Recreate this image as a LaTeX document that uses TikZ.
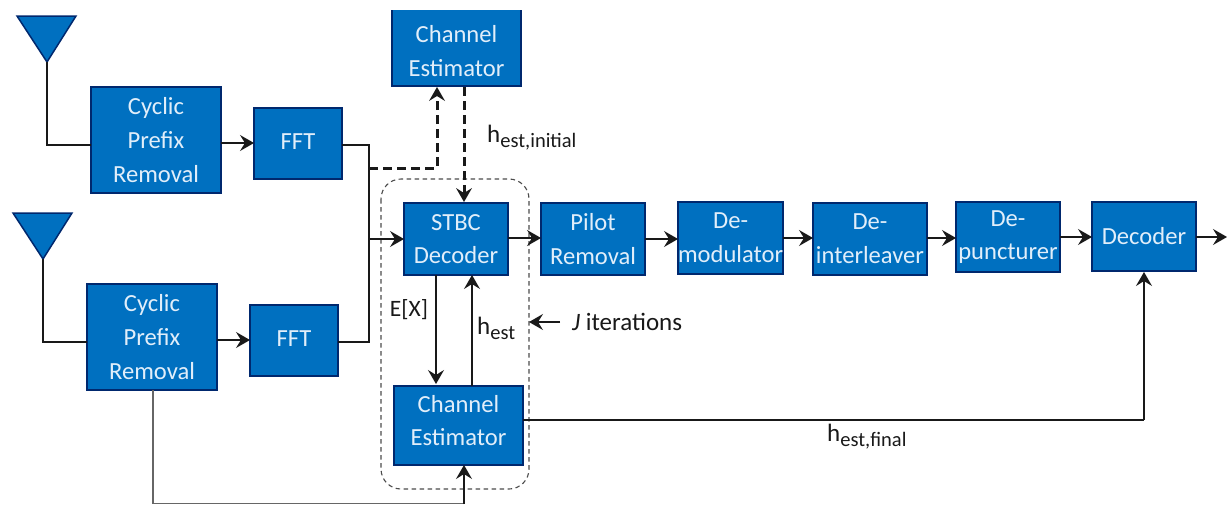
\documentclass[tikz,border=0pt]{standalone}
\usepackage{fontspec}
\setmainfont{Carlito}
\usetikzlibrary{arrows.meta,calc}
\definecolor{boxfill}{RGB}{0,112,192}
\definecolor{boxline}{RGB}{0,40,110}
\definecolor{boxtext}{RGB}{225,238,250}
\definecolor{labeltext}{RGB}{25,25,25}
\tikzset{
  x=1pt,y=-1pt,
  blk/.style={draw=boxline,line width=1.6pt,fill=boxfill,text=boxtext,font=\fontsize{24.6}{33.7}\selectfont,align=center,inner sep=0pt,outer sep=0pt,anchor=north west},
  ant/.style={draw=boxline,line width=1.5pt,fill=boxfill,line join=miter},
  wire/.style={draw=black!90,line width=1.2pt},
  arw/.style={wire,-{Stealth[length=14pt,width=16pt,inset=5pt]}},
  dsh/.style={draw=black!90,line width=3pt,dash pattern=on 9pt off 5pt},
  dsharw/.style={dsh,-{Stealth[length=14pt,width=16pt,inset=5pt,line width=0pt]}},
  lab/.style={text=labeltext,font=\fontsize{25}{27}\selectfont,inner sep=0pt},
}
\newcommand{\blknode}[7][]{\node[blk,minimum width=#5 pt-#3 pt,minimum height=#6 pt-#4 pt,#1] (#2) at (#3,#4) {#7};}
\newcommand{\subtxt}[1]{\raisebox{-5pt}{\fontsize{20.5}{22}\selectfont #1}}
\begin{document}
\begin{tikzpicture}
\useasboundingbox (0,0) rectangle (1227,504);
% antennas
\coordinate (a1l) at (17,16); \coordinate (a1r) at (76,16); \coordinate (a1b) at (47,62);
\coordinate (a2l) at (13,213); \coordinate (a2r) at (72,213); \coordinate (a2b) at (43,259);
\draw[ant] (a1l) -- (a1r) -- (a1b) -- cycle;
\draw[ant] (a2l) -- (a2r) -- (a2b) -- cycle;
% blocks
\blknode{cp1}{91}{87}{221}{193}{Cyclic\\Prefix\\Removal}
\blknode[text depth=4pt]{fft1}{254}{108}{342}{179}{FFT}
\blknode{cp2}{87}{284}{217}{390}{Cyclic\\Prefix\\Removal}
\blknode[text depth=4pt]{fft2}{250}{305}{338}{376}{FFT}
\blknode[text depth=3pt]{top}{392}{2}{521}{86}{\rule{0pt}{14pt}\\[-14pt]Channel\\Estimator}
\blknode{stbc}{404}{203}{508}{275}{STBC\\Decoder}
\blknode{pilot}{541}{203}{645}{275}{Pilot\\Removal}
\blknode{demod}{678}{202}{782}{274}{De-\\modulator}
\blknode{deint}{813}{203}{927}{275}{De-\\interleaver}
\blknode{depun}{956}{202}{1060}{272}{De-\\puncturer}
\blknode[text depth=2pt]{dec}{1092}{202}{1196}{271}{Decoder}
\blknode[text depth=10pt]{che}{394}{386}{523}{465}{Channel\\Estimator}
\fill[white] (380,0) rectangle (540,9.5);
% loop
\draw[draw=black!70,line width=1.1pt,dash pattern=on 4.5pt off 3.5pt,rounded corners=20pt] (381,179) rectangle (529,489);
% wires
\coordinate (j1) at (369,145);
\coordinate (j2) at (369,342);
\coordinate (j3) at (369,239);
\coordinate (d1) at (369,168);
\draw[wire] (a1b) -- (47,145) -- (cp1.west |- 0,145);
\draw[wire] (a2b) -- (43,342) -- (cp2.west |- 0,342);
\draw[arw] (cp1.east |- 0,143) -- (fft1.west |- 0,143);
\draw[arw] (cp2.east |- 0,340) -- (fft2.west |- 0,340);
\draw[wire] (fft1.east |- j1) -- (j1) -- (j2) -- (fft2.east |- j2);
\draw[arw] (j3) -- (stbc.west |- j3);
\draw[dsharw] (d1) -- (437,168) -- (437,87);
\draw[dsharw] (464,87) -- (464,202);
\draw[arw] (stbc.east |- 0,238) -- (pilot.west |- 0,238);
\draw[arw] (pilot.east |- 0,239) -- (demod.west |- 0,239);
\draw[arw] (demod.east |- 0,238) -- (deint.west |- 0,238);
\draw[arw] (deint.east |- 0,238) -- (depun.west |- 0,238);
\draw[arw] (depun.east |- 0,237) -- (dec.west |- 0,237);
\coordinate (outend) at (1227,237);
\draw[arw] (dec.east |- outend) -- (outend);
\draw[arw] (436,275) -- (436,384);
\draw[arw] (472,386) -- (472,275);
\draw[wire] (che.east |- 0,420) -- (1144,420);
\draw[arw] (1144,420) -- (1144,272);
\draw[draw=black!60,line width=1.1pt] (cp2.south -| 153,390) -- (153,503.5) -- (464,503.5);
\draw[arw] (464,504) -- (464,465);
\coordinate (jarrow) at (529,322);
\draw[arw] (560,322) -- (jarrow);
% labels
\node[lab,anchor=base west] (l1) at (487,142) {h\subtxt{est,initial}};
\node[lab,anchor=base,font=\fontsize{23.5}{27}\selectfont] (l2) at (409,316) {E[X]};
\node[lab,anchor=base west] (l3) at (477,334) {h\subtxt{est}};
\node[lab,anchor=base west] (l4) at (572,330) {\textit{J} iterations};
\node[lab,anchor=base west] (l5) at (827,441) {h\subtxt{est,final}};
\end{tikzpicture}
\end{document}
